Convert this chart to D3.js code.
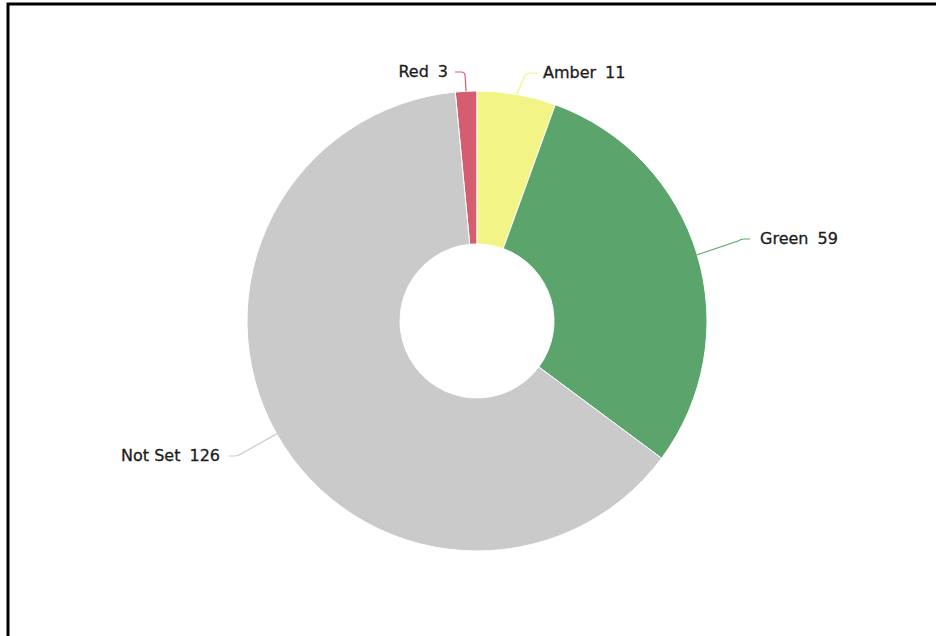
<!DOCTYPE html>
<html>
<head>
<meta charset="utf-8">
<script src="https://cdn.jsdelivr.net/npm/d3@7"></script>
<style>
  html, body { margin: 0; padding: 0; background: #fff; }
  svg { display: block; }
  .lbl { font-family: "DejaVu Sans", sans-serif; font-size: 16px; fill: #1c1c1c; stroke: #1c1c1c; stroke-width: 0.3px; }
</style>
</head>
<body>
<script>
// ---- data ----
const categories = ["Red", "Amber", "Green", "Not Set"];
const values = [3, 11, 59, 126];
const colors = ["#d45e6f", "#f2f585", "#5ba56c", "#cacaca"];

// ---- layout ----
const W = 936, H = 636;
const cx = 477, cy = 321, R = 230, r0 = 77;

const svg = d3.select("body").append("svg").attr("width", W).attr("height", H);

// frame (only top & left visible in the reference)
svg.append("rect").attr("x", 8).attr("y", 4).attr("width", 1000).attr("height", 1000)
  .attr("fill", "none").attr("stroke", "#000").attr("stroke-width", 3);

const total = d3.sum(values);
const startA = -2 * Math.PI * values[0] / total;

const pie = d3.pie().sort(null).value(d => d.v)
  .startAngle(startA).endAngle(startA + 2 * Math.PI);
const data = categories.map((c, i) => ({ name: c, v: values[i], color: colors[i] }));
const arcs = pie(data);

const arc = d3.arc().innerRadius(r0).outerRadius(R);
const g = svg.append("g").attr("transform", `translate(${cx},${cy})`);

g.selectAll("path.slice").data(arcs).enter().append("path")
  .attr("class", "slice")
  .attr("d", arc)
  .attr("fill", d => d.data.color)
  .attr("stroke", "#fff").attr("stroke-width", 1);

// label layout: end of connector relative to centre, side, text gap
const labelLayout = {
  "Red":     { x: -22, y: -249, side: -1, bend: "v", gap: 7 },
  "Amber":   { x: 60,  y: -248, side: 1,  bend: "s", gap: 6 },
  "Green":   { x: 273, y: -82,  side: 1,  bend: "s", gap: 10 },
  "Not Set": { x: -248, y: 135, side: -1, bend: "s", gap: 9 }
};

arcs.forEach(d => {
  const a = (d.startAngle + d.endAngle) / 2;
  const p0 = [R * Math.sin(a), -R * Math.cos(a)];
  const L = labelLayout[d.data.name];
  let path;
  if (L.bend === "v") {
    const x0 = p0[0] - 1;
    path = `M${p0[0]},${p0[1]} L${x0},${L.y + 4} Q${x0},${L.y} ${x0 - 4},${L.y} L${L.x},${L.y}`;
  } else {
    const cxn = L.x - L.side * 9;
    path = `M${p0[0]},${p0[1]} L${cxn - L.side * 3},${L.y + (p0[1] > L.y ? 2 : -2)} Q${cxn},${L.y} ${cxn + L.side * 3},${L.y} L${L.x},${L.y}`;
  }
  g.append("path").attr("d", path).attr("fill", "none")
    .attr("stroke", d.data.color).attr("stroke-width", 1.2);

  const t = g.append("text").attr("class", "lbl")
    .attr("x", L.x + L.side * L.gap).attr("y", L.y + 5)
    .attr("text-anchor", L.side > 0 ? "start" : "end");
  t.append("tspan").text(d.data.name);
  t.append("tspan").attr("dx", 9).text(d.data.v);
});
</script>
</body>
</html>
